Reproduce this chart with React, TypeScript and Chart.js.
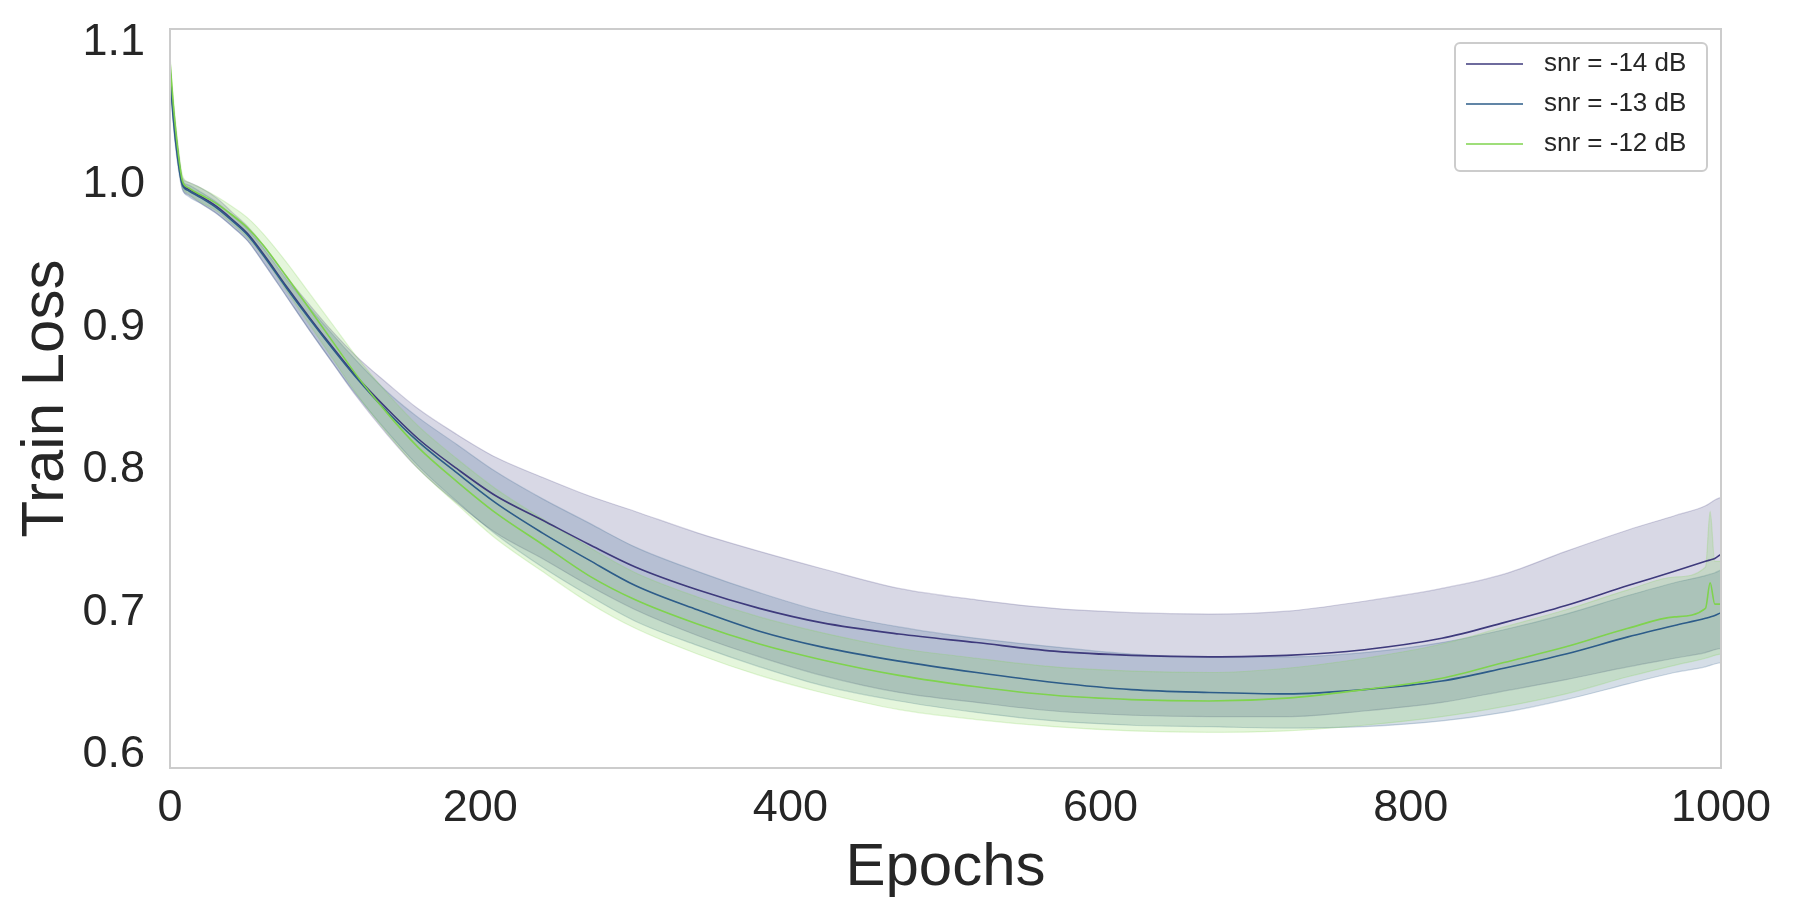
import { useEffect, useRef } from "react";
import { Chart, registerables } from "chart.js";

Chart.register(...registerables);

document.body.style.margin = "0";

const epochs = [
  0, 2, 5, 8, 12, 20, 30, 40, 50, 60, 75, 90, 105, 120, 140, 160, 185, 210, 240, 270,
  300, 340, 380, 420, 470, 520, 570, 620, 670, 720, 770, 820, 860, 900, 940, 970, 990,
  993, 996, 1000,
];

const seriesLabels = ["snr = -14 dB", "snr = -13 dB", "snr = -12 dB"];
const seriesColors = ["#3e3a7c", "#2d5c89", "#7fd34e"];

// mean train loss
const meanSnr14 = [
  1.078, 1.05, 1.02, 0.998, 0.994, 0.989, 0.982, 0.973, 0.963, 0.949, 0.926, 0.904, 0.883,
  0.863, 0.84, 0.819, 0.798, 0.779, 0.762, 0.745, 0.729, 0.713, 0.7, 0.69, 0.682, 0.676,
  0.67, 0.667, 0.666, 0.667, 0.671, 0.679, 0.69, 0.702, 0.716, 0.726, 0.733, 0.734, 0.735,
  0.738,
];
const meanSnr13 = [
  1.076, 1.045, 1.015, 0.997, 0.993, 0.988, 0.981, 0.972, 0.962, 0.948, 0.925, 0.903, 0.882,
  0.862, 0.838, 0.817, 0.795, 0.774, 0.753, 0.734, 0.716, 0.699, 0.684, 0.673, 0.663, 0.655,
  0.648, 0.643, 0.641, 0.64, 0.643, 0.649, 0.658, 0.668, 0.68, 0.688, 0.693, 0.694, 0.695,
  0.697,
];
const meanSnr12 = [
  1.084, 1.055, 1.022, 1.0, 0.995, 0.99, 0.984, 0.976, 0.967, 0.955, 0.933, 0.91, 0.887,
  0.864, 0.837, 0.813, 0.789, 0.767, 0.745, 0.723, 0.706, 0.689, 0.675, 0.664, 0.653, 0.645,
  0.639, 0.636, 0.635, 0.637, 0.643, 0.651, 0.662, 0.673, 0.686, 0.694, 0.7, 0.718, 0.703,
  0.703,
];

// band edges
const upperSnr14 = [
  1.082, 1.055, 1.025, 1.002, 0.999, 0.995, 0.988, 0.978, 0.968, 0.955, 0.933, 0.913, 0.894,
  0.877, 0.858, 0.84, 0.822, 0.806, 0.792, 0.779, 0.768, 0.753, 0.74, 0.728, 0.714, 0.706,
  0.7, 0.697, 0.696, 0.698, 0.705, 0.714, 0.724, 0.74, 0.755, 0.765, 0.772, 0.774, 0.776,
  0.778,
];
const lowerSnr14 = [
  1.074, 1.045, 1.015, 0.994, 0.99, 0.984, 0.977, 0.968, 0.958, 0.943, 0.919, 0.895, 0.872,
  0.849, 0.822, 0.798, 0.774, 0.753, 0.735, 0.716, 0.699, 0.681, 0.666, 0.653, 0.641, 0.634,
  0.628, 0.625, 0.624, 0.624, 0.628, 0.634, 0.642, 0.65, 0.659, 0.665, 0.669, 0.67, 0.671,
  0.672,
];
const upperSnr13 = [
  1.079, 1.049, 1.019, 1.0, 0.997, 0.992, 0.985, 0.976, 0.966, 0.953, 0.931, 0.911, 0.892,
  0.874, 0.852, 0.834, 0.815, 0.796, 0.777, 0.76, 0.743, 0.726, 0.711, 0.698, 0.687, 0.679,
  0.673, 0.668, 0.666, 0.666, 0.669, 0.676, 0.685, 0.696, 0.709, 0.718, 0.723, 0.724, 0.725,
  0.727,
];
const lowerSnr13 = [
  1.073, 1.041, 1.011, 0.994, 0.989, 0.984, 0.977, 0.968, 0.958, 0.943, 0.919, 0.895, 0.872,
  0.85, 0.824, 0.8, 0.775, 0.752, 0.729, 0.709, 0.691, 0.674, 0.659, 0.646, 0.635, 0.627,
  0.621, 0.618, 0.617, 0.616, 0.617, 0.621, 0.627, 0.636, 0.647, 0.655, 0.659, 0.66, 0.661,
  0.662,
];
const upperSnr12 = [
  1.088, 1.06, 1.027, 1.004, 0.999, 0.995, 0.989, 0.982, 0.974, 0.963, 0.943, 0.921, 0.899,
  0.877, 0.851, 0.828, 0.805, 0.784, 0.763, 0.743, 0.725, 0.708, 0.694, 0.683, 0.672, 0.665,
  0.659, 0.656, 0.655, 0.658, 0.665, 0.675, 0.687, 0.699, 0.713, 0.722, 0.729, 0.768, 0.733,
  0.733,
];
const lowerSnr12 = [
  1.08, 1.05, 1.017, 0.996, 0.991, 0.985, 0.979, 0.97, 0.96, 0.947, 0.923, 0.899, 0.875,
  0.851, 0.823, 0.798, 0.773, 0.749, 0.726, 0.704, 0.686, 0.668, 0.653, 0.641, 0.629, 0.622,
  0.617, 0.614, 0.613, 0.614, 0.618, 0.624, 0.631, 0.64, 0.652, 0.66, 0.665, 0.666, 0.667,
  0.668,
];

const xTicks = [0, 200, 400, 600, 800, 1000];

const FONT = "'Liberation Sans', Arial, sans-serif";
const TEXT = "#262626";

const rgba = (hex: string, a: number) => {
  const n = parseInt(hex.slice(1), 16);
  return `rgba(${(n >> 16) & 255}, ${(n >> 8) & 255}, ${n & 255}, ${a})`;
};

const pts = (ys: number[]) => epochs.map((x, i) => ({ x, y: ys[i] }));

const framePlugin = {
  id: "frame",
  afterDatasetsDraw(chart: any) {
    const { ctx, chartArea: a } = chart;
    ctx.save();
    ctx.strokeStyle = "#cccccc";
    ctx.lineWidth = 2;
    ctx.strokeRect(a.left, a.top, a.right - a.left, a.bottom - a.top);
    ctx.restore();
  },
};

const legendPlugin = {
  id: "boxLegend",
  afterDraw(chart: any) {
    const { ctx, chartArea: a } = chart;
    const w = 252;
    const h = 128;
    const x = a.right - 14 - w;
    const y = a.top + 14;
    ctx.save();
    ctx.beginPath();
    ctx.roundRect(x, y, w, h, 5);
    ctx.fillStyle = "rgba(255,255,255,0.8)";
    ctx.fill();
    ctx.strokeStyle = "#cccccc";
    ctx.lineWidth = 2;
    ctx.stroke();
    ctx.font = `26px ${FONT}`;
    ctx.textBaseline = "middle";
    ctx.fillStyle = TEXT;
    seriesLabels.forEach((label, i) => {
      const ry = y + 21 + i * 40;
      ctx.strokeStyle = seriesColors[i];
      ctx.lineWidth = 1.5;
      ctx.beginPath();
      ctx.moveTo(x + 11, ry);
      ctx.lineTo(x + 68, ry);
      ctx.stroke();
      ctx.fillText(label, x + 89, ry);
    });
    ctx.restore();
  },
};

const LossChart = () => {
  const canvasRef = useRef<HTMLCanvasElement>(null);

  useEffect(() => {
    if (!canvasRef.current) return;
    const ctx = canvasRef.current.getContext("2d");
    if (!ctx) return;

    const means = [meanSnr14, meanSnr13, meanSnr12];
    const uppers = [upperSnr14, upperSnr13, upperSnr12];
    const lowers = [lowerSnr14, lowerSnr13, lowerSnr12];

    const datasets: any[] = [];
    means.forEach((m, i) => {
      datasets.push({
        label: seriesLabels[i],
        data: pts(m),
        borderColor: seriesColors[i],
        borderWidth: 1.6,
        pointRadius: 0,
        fill: false,
        order: 3 - i,
      });
    });
    uppers.forEach((u, i) => {
      datasets.push({
        label: `${seriesLabels[i]} upper`,
        data: pts(u),
        borderColor: rgba(seriesColors[i], 0.22),
        borderWidth: 1.2,
        pointRadius: 0,
        fill: false,
        order: 20 - i * 2,
      });
      datasets.push({
        label: `${seriesLabels[i]} lower`,
        data: pts(lowers[i]),
        borderColor: rgba(seriesColors[i], 0.22),
        borderWidth: 1.2,
        pointRadius: 0,
        backgroundColor: rgba(seriesColors[i], 0.2),
        fill: "-1",
        order: 19 - i * 2,
      });
    });

    const chart = new Chart(ctx, {
      type: "line",
      data: { datasets },
      options: {
        animation: false,
        responsive: true,
        maintainAspectRatio: false,
        layout: { autoPadding: false, padding: { top: 29, right: 72, left: 0, bottom: 0 } },
        plugins: {
          legend: { display: false },
          tooltip: { enabled: false },
        },
        elements: { line: { cubicInterpolationMode: "monotone" } },
        scales: {
          x: {
            type: "linear",
            min: 0,
            max: 1000,
            afterFit: (axis: any) => {
              axis.height = 149;
              axis.paddingLeft = 0;
              axis.paddingRight = 0;
            },
            afterBuildTicks: (axis: any) => {
              axis.ticks = xTicks.map((value) => ({ value }));
            },
            grid: { display: false, drawTicks: false },
            border: { display: false },
            ticks: {
              padding: 14,
              color: TEXT,
              font: { family: FONT, size: 45 },
              maxRotation: 0,
              callback: (v: any) => String(v),
            },
            title: {
              display: true,
              text: "Epochs",
              color: TEXT,
              font: { family: FONT, size: 60 },
              padding: { top: 0, bottom: 13 },
            },
          },
          y: {
            type: "linear",
            min: 0.588,
            max: 1.1065,
            afterFit: (axis: any) => {
              axis.width = 170;
              axis.paddingTop = 0;
              axis.paddingBottom = 0;
            },
            grid: { display: false, drawTicks: false },
            border: { display: false },
            ticks: {
              stepSize: 0.1,
              includeBounds: false,
              padding: 25,
              labelOffset: 4,
              color: TEXT,
              font: { family: FONT, size: 45 },
              callback: (v: any) => Number(v).toFixed(1),
            },
            title: {
              display: true,
              text: "Train Loss",
              color: TEXT,
              font: { family: FONT, size: 60 },
              padding: { top: 10, bottom: 0 },
            },
          },
        },
      },
      plugins: [framePlugin, legendPlugin],
    });

    return () => chart.destroy();
  }, []);

  return (
    <div style={{ position: "relative", width: "1793px", height: "917px" }}>
      <canvas ref={canvasRef}></canvas>
    </div>
  );
};

export default function App() {
  return <LossChart />;
}
